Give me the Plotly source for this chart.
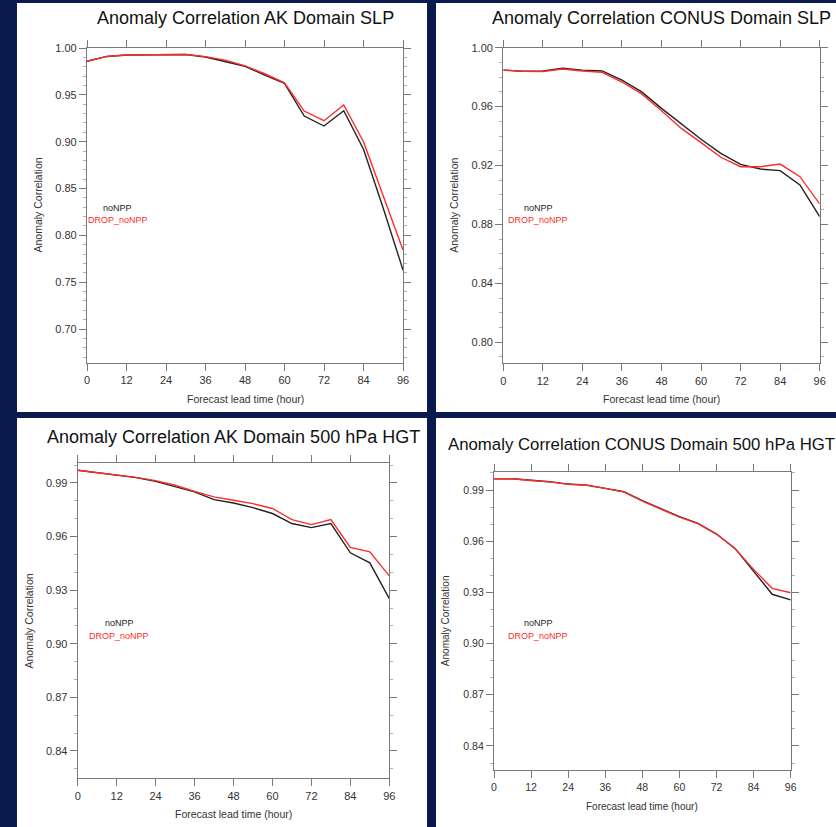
import plotly.graph_objects as go

# ---------------- data ----------------
lead_hours = [0, 6, 12, 18, 24, 30, 36, 42, 48, 54, 60, 66, 72, 78, 84, 90, 96]
x_ticks = [0, 12, 24, 36, 48, 60, 72, 84, 96]

titles = [
    "Anomaly Correlation AK Domain SLP",
    "Anomaly Correlation CONUS Domain SLP",
    "Anomaly Correlation AK Domain 500 hPa HGT",
    "Anomaly Correlation CONUS Domain 500 hPa HGT",
]
series_names = ["noNPP", "DROP_noNPP"]

ak_slp_noNPP = [0.9858, 0.991, 0.9925, 0.9925, 0.9925, 0.993, 0.9904, 0.9858, 0.9805, 0.971,
                0.9623, 0.9274, 0.9167, 0.933, 0.892, 0.829, 0.763]
ak_slp_drop = [0.9858, 0.991, 0.9925, 0.9925, 0.9925, 0.993, 0.9908, 0.987, 0.981, 0.9725,
               0.9628, 0.9327, 0.9224, 0.9391, 0.900, 0.841, 0.7843]

conus_slp_noNPP = [0.9848, 0.984, 0.9842, 0.986, 0.9848, 0.9842, 0.978, 0.970, 0.9588, 0.948,
                   0.9378, 0.9283, 0.9208, 0.9176, 0.9165, 0.9068, 0.8853]
conus_slp_drop = [0.9848, 0.984, 0.9838, 0.9855, 0.9842, 0.9833, 0.9767, 0.9686, 0.9572, 0.9452,
                  0.9355, 0.9256, 0.9192, 0.9192, 0.921, 0.9124, 0.8939]

ak_hgt_noNPP = [0.9971, 0.9958, 0.9943, 0.993, 0.9909, 0.9881, 0.985, 0.9807, 0.9788, 0.9762,
                0.9729, 0.9673, 0.965, 0.9673, 0.9509, 0.9453, 0.9253]
ak_hgt_drop = [0.9971, 0.9958, 0.9943, 0.9931, 0.9913, 0.9887, 0.9853, 0.9822, 0.9803, 0.9784,
               0.9757, 0.9695, 0.9667, 0.9695, 0.9539, 0.9514, 0.938]

conus_hgt_noNPP = [0.9966, 0.9966, 0.9957, 0.9949, 0.9935, 0.9929, 0.991, 0.989, 0.9838, 0.9789,
                   0.9744, 0.9705, 0.9642, 0.9558, 0.9421, 0.9289, 0.9256]
conus_hgt_drop = [0.9966, 0.9966, 0.9956, 0.9948, 0.9933, 0.9928, 0.991, 0.9889, 0.9835, 0.9787,
                  0.9741, 0.9703, 0.9642, 0.9556, 0.9435, 0.9324, 0.9298]

panel_series = [
    (ak_slp_noNPP, ak_slp_drop),
    (conus_slp_noNPP, conus_slp_drop),
    (ak_hgt_noNPP, ak_hgt_drop),
    (conus_hgt_noNPP, conus_hgt_drop),
]

# ---------------- layout / style ----------------
W, H = 836, 827
FONT = "Liberation Sans, Arial, Helvetica, sans-serif"
NAVY = "#0b1a4c"
FRAME = "#7a7a7a"
GRID = "#b0b0b0"
colors = ["#222222", "#ff2a2a"]

def px(x):
    return x / W

def py(y):
    return 1 - y / H

# plot areas in pixels: (left, right, top, bottom)
areas = [
    (87, 403, 48, 363),
    (503.3, 819.7, 47.7, 363.3),
    (77.7, 389.3, 463.3, 778.3),
    (494, 790.7, 472.3, 770),
]
y_ranges = [(0.6637, 1.0), (0.7857, 1.0), (0.8247, 1.001), (0.8259, 1.0004)]
y_dticks = [0.05, 0.04, 0.03, 0.03]
y_tick0 = [1.0, 1.0, 0.99, 0.99]
white_boxes = [(17, 427, 3, 412), (436, 836, 3, 412), (17, 427, 418, 827), (436, 836, 418, 827)]
title_pos = [(245, 18, "center", 18), (661.7, 18, "center", 18),
             (233, 437, "center", 18), (446, 445, "left", 16.8)]
small = [11, 11, 11, 10.5]   # tick font sizes
legend_frac = [(0.098, 0.492, 0.454), (0.11, 0.492, 0.454), (0.133, 0.492, 0.453), (0.149, 0.493, 0.451)]

fig = go.Figure()
shapes = []
annotations = []

for i in range(4):
    sfx = "" if i == 0 else str(i + 1)
    xa, ya = "x" + sfx, "y" + sfx
    l, r, t, b = areas[i]
    for k in range(2):
        fig.add_trace(go.Scatter(
            x=lead_hours, y=panel_series[i][k], mode="lines", name=series_names[k],
            line=dict(color=colors[k], width=1.4), xaxis=xa, yaxis=ya, showlegend=False,
            hoverinfo="skip",
        ))
    common = dict(showline=True, linecolor=FRAME, linewidth=1.2, mirror="ticks",
                  ticks="outside", tickcolor=FRAME, tickwidth=1.2, ticklen=7,
                  tickfont=dict(family=FONT, size=small[i], color="#333333"),
                  zeroline=False, automargin=False)
    fig.update_layout(**{
        "xaxis" + sfx: dict(common, domain=[px(l), px(r)], range=[0, 96],
                            tickmode="array", tickvals=x_ticks,
                            showgrid=False, anchor=ya),
        "yaxis" + sfx: dict(common, domain=[py(b), py(t)], range=list(y_ranges[i]),
                            tick0=y_tick0[i], dtick=y_dticks[i], tickformat=".2f",
                            showgrid=False, anchor=xa,
                            minor=dict(dtick=0.01, tick0=1.0, ticks="outside", ticklen=3,
                                       tickcolor=GRID, tickwidth=1, showgrid=False)),
    })
    # vertical reference lines at 24 and 72 h
    for xv in (24, 72):
        shapes.append(dict(type="line", xref=xa, yref=ya + " domain", x0=xv, x1=xv, y0=0, y1=1,
                           line=dict(color=GRID, width=1.2), layer="below"))
    # white panel
    x0, x1, y0, y1 = white_boxes[i]
    shapes.append(dict(type="rect", xref="paper", yref="paper", x0=px(x0), x1=px(x1),
                       y0=py(y1), y1=py(y0), fillcolor="white", line=dict(width=0), layer="below"))
    # title
    tx, ty, anc, fs = title_pos[i]
    annotations.append(dict(text=titles[i], xref="paper", yref="paper", x=px(tx), y=py(ty),
                            xanchor=anc, yanchor="middle", showarrow=False,
                            font=dict(family=FONT, size=fs, color="#111111")))
    # axis titles
    annotations.append(dict(text="Forecast lead time (hour)", xref="paper", yref="paper",
                            x=px((l + r) / 2), y=py(b + 36), xanchor="center", yanchor="middle",
                            showarrow=False, font=dict(family=FONT, size=small[i] - 0.5, color="#333333")))
    annotations.append(dict(text="Anomaly Correlation", xref="paper", yref="paper",
                            x=px(l - 49), y=py((t + b) / 2), xanchor="center", yanchor="middle",
                            textangle=-90, showarrow=False,
                            font=dict(family=FONT, size=small[i] - 0.5, color="#333333")))
    # in-plot legend text
    fx, fy1, fy2 = legend_frac[i]
    annotations.append(dict(text=series_names[0], xref=xa + " domain", yref=ya + " domain",
                            x=fx, y=fy1, xanchor="center", yanchor="middle", showarrow=False,
                            font=dict(family=FONT, size=9, color="#222222")))
    annotations.append(dict(text=series_names[1], xref=xa + " domain", yref=ya + " domain",
                            x=fx, y=fy2, xanchor="center", yanchor="middle", showarrow=False,
                            font=dict(family=FONT, size=9, color="#ff2a2a")))

fig.update_layout(
    width=W, height=H, margin=dict(l=0, r=0, t=0, b=0, autoexpand=False),
    paper_bgcolor=NAVY, plot_bgcolor="white",
    shapes=shapes, annotations=annotations, showlegend=False,
)

fig.write_html("out.html", config={"displayModeBar": False},
               post_script="document.body.style.margin='0';document.body.style.overflow='hidden';")
